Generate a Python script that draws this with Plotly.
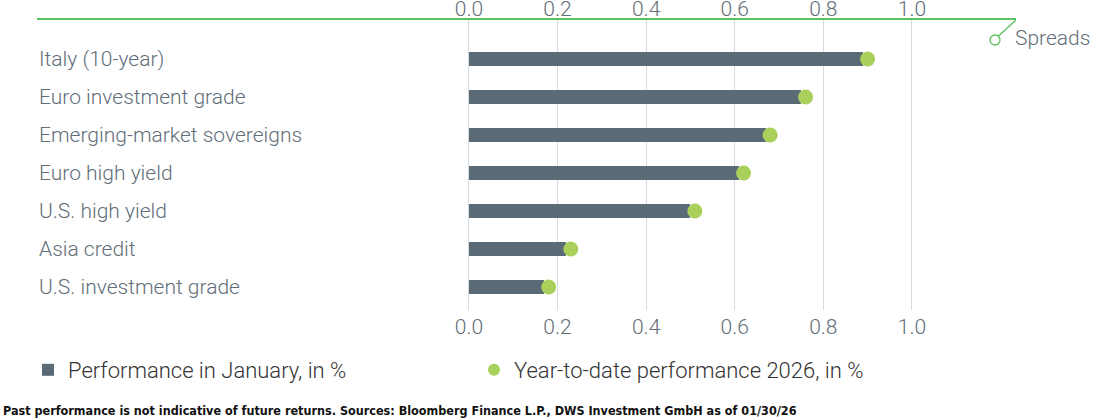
import plotly.graph_objects as go

categories = ["Italy (10-year)", "Euro investment grade", "Emerging-market sovereigns",
              "Euro high yield", "U.S. high yield", "Asia credit", "U.S. investment grade"]
january_perf = [0.89, 0.75, 0.67, 0.61, 0.50, 0.22, 0.17]
ytd_perf = [0.90, 0.76, 0.68, 0.62, 0.51, 0.23, 0.18]
tick_vals = [0.0, 0.2, 0.4, 0.6, 0.8, 1.0]
tick_text = ["0.0", "0.2", "0.4", "0.6", "0.8", "1.0"]

BAR = "#5b6b76"
DOT = "#a8d05a"
GREEN = "#5cc05c"
TXT = "#5f6e78"
FONT = "Roboto"
FS = 21

W, H = 1096, 418
L, R, T, B = 37, W - 1016, 20, 108
PW, PH = W - L - R, H - T - B
XR = [-0.975, 1.235]
YR = [6.605, -1.026]


def px(x):
    return (x - L) / PW


def py(y):
    return 1 - (y - T) / PH


fig = go.Figure()
ypos = list(range(len(categories)))
fig.add_trace(go.Bar(
    x=january_perf, y=ypos, orientation="h", width=0.35,
    marker=dict(color=BAR, line=dict(width=0)),
    name="Performance in January, in %", showlegend=True,
))
fig.add_trace(go.Scatter(
    x=ytd_perf, y=ypos, mode="markers",
    marker=dict(color=DOT, size=15, line=dict(width=0)),
    name="Year-to-date performance 2026, in %", showlegend=True,
))
fig.add_trace(go.Scatter(x=[0], y=[0], xaxis="x2", mode="markers",
                         marker=dict(opacity=0), showlegend=False, hoverinfo="skip"))

for i, c in enumerate(categories):
    fig.add_annotation(x=px(37), xref="paper", xanchor="left", y=i, yref="y", yanchor="middle",
                       text=c, showarrow=False,
                       font=dict(family=FONT, size=FS, color=TXT, weight=300))

fig.update_layout(
    width=W, height=H,
    margin=dict(l=L, r=R, t=T, b=B, pad=0, autoexpand=False),
    paper_bgcolor="white", plot_bgcolor="white",
    bargap=0,
    xaxis=dict(range=XR, tickvals=tick_vals, ticktext=tick_text, showgrid=True,
               gridcolor="#d5dae2", gridwidth=1, zeroline=False, showline=False,
               ticks="", tickfont=dict(family=FONT, size=FS, color=TXT, weight=300),
               ticklabelstandoff=2, automargin=False),
    xaxis2=dict(range=XR, overlaying="x", side="top", tickvals=tick_vals, ticktext=tick_text,
                showgrid=False, zeroline=False, showline=True, linecolor=GREEN, linewidth=1.5,
                ticks="", tickfont=dict(family=FONT, size=FS, color=TXT, weight=300),
                ticklabelstandoff=-6, automargin=False),
    yaxis=dict(range=YR, showticklabels=False, showgrid=False, zeroline=False, ticks="",
               automargin=False),
    legend=dict(orientation="h", x=px(28), xanchor="left", y=py(349), yanchor="top",
                entrywidth=401, entrywidthmode="pixels",
                font=dict(family=FONT, size=22, color="#333333", weight=300),
                itemsizing="constant", traceorder="normal"),
    showlegend=True,
)

# Spreads marker: diagonal line and hollow circle
cx, cy = px(995), py(40)
dx, dy = 5 / PW, 5 / PH
fig.add_shape(type="line", xref="paper", yref="paper",
              x0=1.0, y0=1.0, x1=px(998), y1=py(36.5),
              line=dict(color=GREEN, width=1.3))
fig.add_shape(type="circle", xref="paper", yref="paper",
              x0=cx - dx, x1=cx + dx, y0=cy - dy, y1=cy + dy,
              line=dict(color=GREEN, width=1.3), fillcolor="white")
fig.add_annotation(x=px(1013), xref="paper", xanchor="left", y=py(38), yref="paper", yanchor="middle",
                   text="Spreads", showarrow=False,
                   font=dict(family=FONT, size=FS, color=TXT, weight=300))

fig.add_annotation(x=px(1), xref="paper", xanchor="left", y=py(410), yref="paper", yanchor="middle",
                   text="<b>Past performance is not indicative of future returns. Sources: Bloomberg Finance L.P., DWS Investment GmbH as of 01/30/26</b>",
                   showarrow=False, font=dict(family="DejaVu Sans Condensed", size=12.5, color="#111111"))

fig.write_html("out.html", post_script="document.body.style.margin='0';",
               config={"displayModeBar": False})
